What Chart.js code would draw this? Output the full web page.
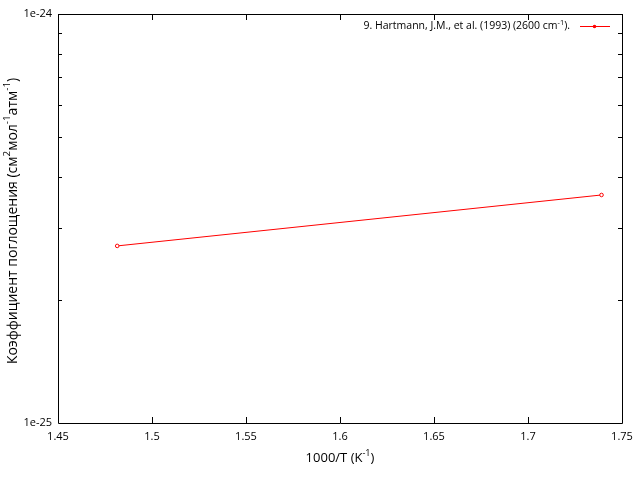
<!DOCTYPE html>
<html>
<head>
<meta charset="utf-8">
<script src="https://cdn.jsdelivr.net/npm/chart.js@4/dist/chart.umd.min.js"></script>
<style>
html,body{margin:0;padding:0;background:#fff;}
#wrap{width:640px;height:480px;position:relative;}
</style>
</head>
<body>
<div id="wrap"><canvas id="c" width="640" height="480"></canvas></div>
<script>
// Data
const inverseTemperature = [1.4815, 1.7391];          // 1000/T (K^-1)
const absorptionCoeff = [2.71e-25, 3.61e-25];         // cm^2 mol^-1 atm^-1
const seriesLabel = '9. Hartmann, J.M., et al. (1993) (2600 cm\u207B\u00B9).';
const xTickValues = [1.45, 1.5, 1.55, 1.6, 1.65, 1.7, 1.75];
const yMajorTickLabels = ['1e-25', '1e-24'];
const yMinorTickValues = [2e-25, 3e-25, 4e-25, 5e-25, 6e-25, 7e-25, 8e-25, 9e-25];
// Rich text (with superscripts) for titles and legend
const legendParts = [['9. Hartmann, J.M., et al. (1993) (2600 cm', false], ['-1', true], [').', false]];
const xTitleParts = [['1000/T (K', false], ['-1', true], [')', false]];
const yTitleParts = [['Коэффициент поглощения (см', false], ['2', true], ['мол', false], ['-1', true], ['атм', false], ['-1', true], [')', false]];

const FONT = "'Open Sans', 'DejaVu Sans', sans-serif";
const RED = '#ff0000';

function richWidth(ctx, parts, size) {
  let w = 0;
  parts.forEach(([t, sup]) => {
    ctx.font = (sup ? size * 0.7 : size) + 'px ' + FONT;
    w += ctx.measureText(t).width;
  });
  return w;
}
function drawRich(ctx, parts, x, y, size, align) {
  const w = richWidth(ctx, parts, size);
  let cx = align === 'center' ? x - w / 2 : (align === 'right' ? x - w : x);
  ctx.textAlign = 'left';
  ctx.textBaseline = 'middle';
  parts.forEach(([t, sup]) => {
    ctx.font = (sup ? size * 0.7 : size) + 'px ' + FONT;
    ctx.fillText(t, cx, sup ? y - size * 0.38 : y);
    cx += ctx.measureText(t).width;
  });
}

const framePlugin = {
  id: 'frame',
  afterDraw(chart) {
    const ctx = chart.ctx;
    const a = chart.chartArea;
    const xs = chart.scales.x, ys = chart.scales.y;
    ctx.save();
    ctx.strokeStyle = '#000';
    ctx.lineWidth = 1;
    ctx.beginPath();
    ctx.rect(Math.round(a.left) + 0.5, Math.round(a.top) + 0.5, Math.round(a.right - a.left), Math.round(a.bottom - a.top));
    ctx.stroke();
    ctx.beginPath();
    const major = 6, minor = 4;
    xTickValues.forEach(v => {
      const px = Math.round(xs.getPixelForValue(v)) + 0.5;
      ctx.moveTo(px, a.bottom); ctx.lineTo(px, a.bottom - major);
      ctx.moveTo(px, a.top); ctx.lineTo(px, a.top + major);
    });
    yMinorTickValues.forEach(v => {
      const py = Math.round(ys.getPixelForValue(v)) + 0.5;
      ctx.moveTo(a.left, py); ctx.lineTo(a.left + minor, py);
      ctx.moveTo(a.right, py); ctx.lineTo(a.right - minor, py);
    });
    ctx.stroke();

    ctx.fillStyle = '#000';
    // axis titles
    drawRich(ctx, xTitleParts, (a.left + a.right) / 2, 458, 13, 'center');
    ctx.save();
    ctx.translate(13, 221);
    ctx.rotate(-Math.PI / 2);
    drawRich(ctx, yTitleParts, 0, 0, 14, 'center');
    ctx.restore();

    // legend (gnuplot style: text then sample)
    const ly = 26.5;
    const sx0 = 580, sx1 = 610;
    drawRich(ctx, legendParts, 570, ly, 10.5, 'right');
    ctx.strokeStyle = RED;
    ctx.fillStyle = RED;
    ctx.beginPath();
    ctx.moveTo(sx0, ly); ctx.lineTo(sx1, ly);
    ctx.stroke();
    ctx.beginPath();
    ctx.arc(594.5, ly, 1.8, 0, Math.PI * 2);
    ctx.fill();
    ctx.restore();
  }
};

new Chart(document.getElementById('c'), {
  type: 'line',
  data: {
    datasets: [{
      label: seriesLabel,
      data: inverseTemperature.map((x, i) => ({ x: x, y: absorptionCoeff[i] })),
      borderColor: RED,
      backgroundColor: '#fff',
      borderWidth: 1,
      pointRadius: 1.8,
      pointBorderWidth: 1,
      pointStyle: 'circle',
      tension: 0
    }]
  },
  plugins: [framePlugin],
  options: {
    responsive: false,
    animation: false,
    devicePixelRatio: 1,
    layout: { padding: { left: 0, right: 18, top: 14, bottom: 0 } },
    plugins: { legend: { display: false }, tooltip: { enabled: false } },
    scales: {
      x: {
        type: 'linear',
        min: 1.45, max: 1.75,
        afterBuildTicks(scale) { scale.ticks = xTickValues.map(v => ({ value: v })); },
        afterFit(scale) { scale.height = 57; },
        grid: { display: false, drawTicks: false },
        border: { display: false },
        ticks: {
          padding: 7,
          color: '#000',
          font: { family: FONT, size: 11 },
          maxRotation: 0,
          callback: v => String(parseFloat(Number(v).toFixed(2)))
        },
        title: { display: false }
      },
      y: {
        type: 'logarithmic',
        min: 1e-25, max: 1e-24,
        afterBuildTicks(scale) { scale.ticks = [{ value: 1e-25 }, { value: 1e-24 }]; },
        afterFit(scale) { scale.width = 58; },
        grid: { display: false, drawTicks: false },
        border: { display: false },
        ticks: {
          padding: 6,
          color: '#000',
          font: { family: FONT, size: 11 },
          callback: (v, i) => yMajorTickLabels[i]
        },
        title: { display: false }
      }
    }
  }
});
</script>
</body>
</html>
